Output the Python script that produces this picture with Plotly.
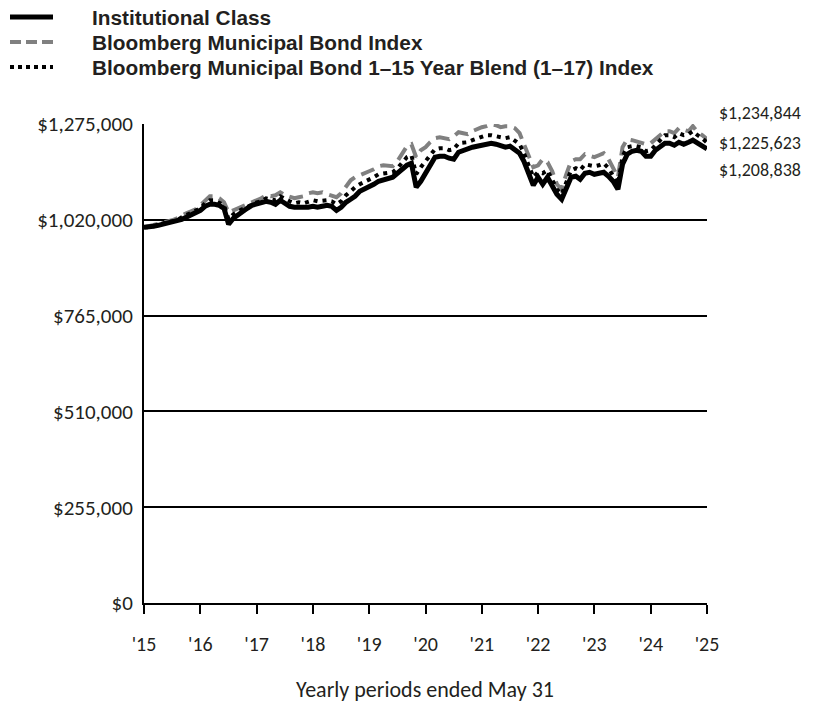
import pandas as pd
import plotly.graph_objects as go

dates = pd.date_range("2015-05-31", periods=121, freq="ME")

institutional = [
    1000000, 1000000, 1002700, 1005300, 1008000, 1010700, 1013300, 1016000, 1021300, 1026700,
    1032000, 1037300, 1045300, 1056000, 1061300, 1061300, 1058600, 1050600, 1008000, 1024000,
    1034600, 1042600, 1050600, 1058600, 1061300, 1064000, 1069300, 1066600, 1061300, 1072000,
    1064000, 1056000, 1053300, 1053300, 1050600, 1053300, 1056000, 1053300, 1056000, 1058600,
    1056000, 1045300, 1053300, 1066600, 1074600, 1082600, 1095900, 1101300, 1109300, 1114600,
    1122600, 1125300, 1127900, 1133300, 1143900, 1154600, 1165200, 1170600, 1106600, 1122600,
    1143900, 1165200, 1186600, 1189200, 1189200, 1183900, 1181200, 1199900, 1205200, 1210500,
    1213200, 1215900, 1218500, 1223900, 1223900, 1221200, 1218500, 1213200, 1215900, 1205200,
    1197200, 1175900, 1141200, 1111900, 1133300, 1114600, 1133300, 1106600, 1087900, 1074600,
    1106600, 1133300, 1135900, 1127900, 1143900, 1146600, 1141200, 1143900, 1146600, 1135900,
    1122600, 1101300, 1167900, 1194500, 1202500, 1205200, 1202500, 1189200, 1189200, 1205200,
    1215900, 1223900, 1223900, 1218500, 1226500, 1221200, 1226500, 1231900, 1223900, 1215900,
    1208838,
]

muni_index = [
    1000000, 1002700, 1005300, 1008000, 1013300, 1016000, 1018700, 1024000, 1032000, 1037300,
    1042600, 1048000, 1058600, 1072000, 1082600, 1082600, 1077300, 1066600, 1040000, 1045300,
    1050600, 1056000, 1061300, 1066600, 1072000, 1077300, 1085300, 1082600, 1085300, 1093300,
    1085300, 1082600, 1077300, 1080000, 1082600, 1090600, 1093300, 1090600, 1093300, 1087900,
    1085300, 1080000, 1090600, 1106600, 1125300, 1133300, 1138600, 1141200, 1149200, 1154600,
    1162600, 1165200, 1165200, 1162600, 1175900, 1194500, 1215900, 1221200, 1186600, 1205200,
    1213200, 1226500, 1237200, 1239900, 1237200, 1234500, 1242500, 1253200, 1250500, 1247800,
    1255800, 1261200, 1266500, 1269200, 1274500, 1271800, 1266500, 1269200, 1269200, 1263800,
    1250500, 1221200, 1189200, 1159900, 1165200, 1181200, 1173200, 1149200, 1114600, 1101300,
    1141200, 1175900, 1181200, 1181200, 1194500, 1189200, 1186600, 1191900, 1197200, 1181200,
    1159900, 1133300, 1213200, 1234500, 1231900, 1229200, 1226500, 1221200, 1223900, 1234500,
    1242500, 1255800, 1255800, 1250500, 1263800, 1258500, 1255800, 1269200, 1253200, 1245200,
    1234844,
]

blend_index = [
    1000000, 1000000, 1002700, 1005300, 1010700, 1013300, 1016000, 1018700, 1026700, 1032000,
    1037300, 1042600, 1050600, 1064000, 1072000, 1072000, 1066600, 1058600, 1021300, 1034600,
    1042600, 1048000, 1056000, 1061300, 1066600, 1069300, 1077300, 1074600, 1072000, 1082600,
    1074600, 1069300, 1064000, 1066600, 1064000, 1069300, 1072000, 1069300, 1072000, 1072000,
    1069300, 1061300, 1069300, 1085300, 1095900, 1106600, 1114600, 1119900, 1127900, 1133300,
    1141200, 1143900, 1143900, 1146600, 1157200, 1173200, 1186600, 1191900, 1141200, 1159900,
    1175900, 1191900, 1207900, 1210500, 1210500, 1205200, 1207900, 1223900, 1226500, 1226500,
    1231900, 1237200, 1239900, 1245200, 1245200, 1242500, 1239900, 1237200, 1239900, 1231900,
    1221200, 1197200, 1162600, 1133300, 1146600, 1143900, 1151900, 1125300, 1101300, 1087900,
    1122600, 1151900, 1157200, 1151900, 1167900, 1165200, 1162600, 1165200, 1170600, 1157200,
    1138600, 1114600, 1189200, 1213200, 1215900, 1215900, 1213200, 1202500, 1205200, 1218500,
    1234500, 1245200, 1245200, 1239900, 1250500, 1245200, 1247800, 1255800, 1245200, 1237200,
    1225623,
]

series_names = [
    "Institutional Class",
    "Bloomberg Municipal Bond Index",
    "Bloomberg Municipal Bond 1–15 Year Blend (1–17) Index",
]
y_tick_values = [0, 255000, 510000, 765000, 1020000, 1275000]
y_tick_labels = ["$0", "$255,000", "$510,000", "$765,000", "$1,020,000", "$1,275,000"]
x_tick_labels = ["'15", "'16", "'17", "'18", "'19", "'20", "'21", "'22", "'23", "'24", "'25"]
x_title = "Yearly periods ended May 31"

FONT = "Carlito, Lato, 'Open Sans', sans-serif"
LEGEND_FONT = "'Liberation Sans', Arial, sans-serif"
TEXT = "#231f20"
GRAY = "#808080"

W, H = 817, 708
L, R, T, B = 144, 110, 124, 105
PW, PH = W - L - R, H - T - B


def px_x(x):
    return (x - L) / PW


def px_y(y):
    return (H - B - y) / PH


fig = go.Figure()
fig.add_trace(go.Scatter(x=dates, y=muni_index, mode="lines", name=series_names[1],
                         line=dict(color=GRAY, width=4, dash="14px,7px"), showlegend=False))
fig.add_trace(go.Scatter(x=dates, y=institutional, mode="lines", name=series_names[0],
                         line=dict(color="black", width=5), showlegend=False))
fig.add_trace(go.Scatter(x=dates, y=blend_index, mode="lines", name=series_names[2],
                         line=dict(color="black", width=4, dash="4px,5px"), showlegend=False))

# manual legend
leg_styles = [dict(color="black", width=5), dict(color=GRAY, width=4, dash="11px,5px"),
              dict(color="black", width=4, dash="4px,4px")]
leg_y = [17, 42, 67]
for name, st, yy in zip(series_names, leg_styles, leg_y):
    fig.add_shape(type="line", xref="paper", yref="paper", x0=px_x(10), x1=px_x(53),
                  y0=px_y(yy), y1=px_y(yy), line=st)
    fig.add_annotation(xref="paper", yref="paper", x=px_x(90), y=px_y(yy), text="<b>%s</b>" % name,
                       showarrow=False, xanchor="left", yanchor="middle",
                       font=dict(family=LEGEND_FONT, size=20.8, color=TEXT))

# end labels
ends = [(muni_index[-1], 26), (blend_index[-1], 0), (institutional[-1], -21)]
for val, shift in ends:
    fig.add_annotation(x=dates[-1], y=val, xref="x", yref="y", text="${:,.0f}".format(val),
                       showarrow=False, xanchor="left", yanchor="middle", xshift=10, yshift=shift,
                       font=dict(family=FONT, size=18, color=TEXT))

fig.add_annotation(xref="paper", yref="paper", x=px_x(425), y=px_y(690), text=x_title,
                   showarrow=False, xanchor="center", yanchor="middle",
                   font=dict(family=FONT, size=22, color=TEXT))

fig.update_layout(
    width=W, height=H, margin=dict(l=L, r=R, t=T, b=B),
    paper_bgcolor="white", plot_bgcolor="white",
    font=dict(family=FONT, color=TEXT, size=20),
)
fig.update_xaxes(
    range=[dates[0], dates[-1]], tickvals=[dates[i] for i in range(0, 121, 12)], ticktext=x_tick_labels,
    showgrid=False, showline=True, linecolor="black", linewidth=2, ticks="outside", ticklen=9,
    tickwidth=2, tickcolor="black", ticklabelstandoff=13, tickfont=dict(size=20), zeroline=False,
)
fig.update_yaxes(
    range=[0, 1275000], tickvals=y_tick_values, ticktext=y_tick_labels, showgrid=True,
    gridcolor="black", gridwidth=2, showline=True, linecolor="black", linewidth=2, ticks="",
    ticklabelstandoff=5, tickfont=dict(size=21), zeroline=False,
)

fig.write_html("out.html", config={"displayModeBar": False},
               post_script="document.body.style.margin='0px';")
